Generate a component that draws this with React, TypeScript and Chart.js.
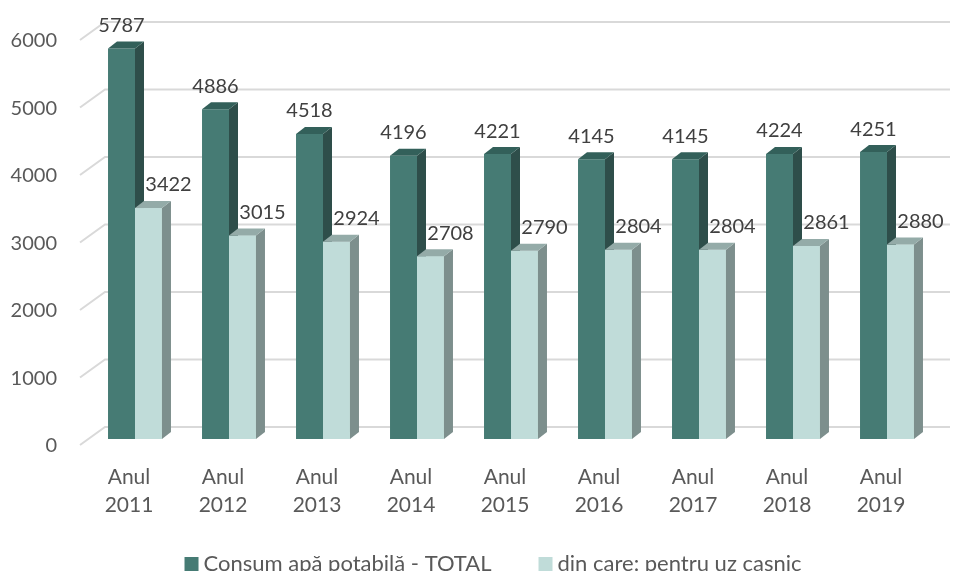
import React, { useEffect, useRef } from 'react';
import { Chart, registerables } from 'chart.js';

Chart.register(...registerables);

const years = ['2011', '2012', '2013', '2014', '2015', '2016', '2017', '2018', '2019'];
const categoryLabels = years.map((y) => ['Anul', y]);
const totalValues = [5787, 4886, 4518, 4196, 4221, 4145, 4145, 4224, 4251];
const householdValues = [3422, 3015, 2924, 2708, 2790, 2804, 2804, 2861, 2880];
const seriesNames = ['Consum apă potabilă - TOTAL', 'din care: pentru uz casnic'];
const yMin = 0;
const yMax = 6000;
const yStep = 1000;

const FONT = 'Lato, "Open Sans", sans-serif';
const frontColors = ['#467b74', '#c0dcd9'];
const sideColors = ['#2e4e4a', '#7d8f8d'];
const topColors = ['#33605a', '#94aba8'];
const DX = 9;
const DY = 7;

const gridPlugin = {
  id: 'grid3d',
  beforeDatasetsDraw(chart: any) {
    const { ctx, chartArea, scales } = chart;
    const y = scales.y;
    ctx.save();
    ctx.strokeStyle = '#d9d9d9';
    ctx.lineWidth = 2;
    y.ticks.forEach((t: any) => {
      const py = y.getPixelForValue(t.value);
      ctx.beginPath();
      ctx.moveTo(chartArea.left - 8, py + 6);
      ctx.lineTo(chartArea.left + 17, py - 12);
      ctx.lineTo(chartArea.right + 16, py - 12);
      ctx.stroke();
    });
    ctx.restore();
  },
};

function drawDepth(ctx: any, bar: any, idx: number) {
  const { x, y, base, width } = bar.getProps(['x', 'y', 'base', 'width'], true);
  const l = x - width / 2;
  const r = x + width / 2;
  ctx.fillStyle = sideColors[idx];
  ctx.beginPath();
  ctx.moveTo(r, y);
  ctx.lineTo(r + DX, y - DY);
  ctx.lineTo(r + DX, base - DY);
  ctx.lineTo(r, base);
  ctx.closePath();
  ctx.fill();
  ctx.fillStyle = topColors[idx];
  ctx.beginPath();
  ctx.moveTo(l, y);
  ctx.lineTo(l + DX, y - DY);
  ctx.lineTo(r + DX, y - DY);
  ctx.lineTo(r, y);
  ctx.closePath();
  ctx.fill();
}

const depthPlugin = {
  id: 'depth3d',
  afterDatasetsDraw(chart: any) {
    const { ctx } = chart;
    ctx.save();
    chart.getDatasetMeta(0).data.forEach((bar: any) => drawDepth(ctx, bar, 0));
    chart.getDatasetMeta(1).data.forEach((bar: any) => {
      const { x, y, base, width } = bar.getProps(['x', 'y', 'base', 'width'], true);
      ctx.fillStyle = frontColors[1];
      ctx.fillRect(x - width / 2, y, width, base - y);
      drawDepth(ctx, bar, 1);
    });
    ctx.font = `20px ${FONT}`;
    ctx.fillStyle = '#404040';
    ctx.textAlign = 'center';
    ctx.textBaseline = 'middle';
    chart.data.datasets.forEach((ds: any, di: number) => {
      const meta = chart.getDatasetMeta(di);
      meta.data.forEach((bar: any, i: number) => {
        const shift = di === 1 ? 20 : 0;
        ctx.fillText(String(ds.data[i]), bar.x + shift, bar.y - 23);
      });
    });
    ctx.restore();
  },
};

const legendPlugin = {
  id: 'customLegend',
  afterDraw(chart: any) {
    const { ctx } = chart;
    ctx.save();
    ctx.font = `22px ${FONT}`;
    ctx.textBaseline = 'middle';
    ctx.textAlign = 'left';
    const box = 14;
    const gap = 5;
    const spacing = 47;
    const widths = chart.data.datasets.map((ds: any) => box + gap + ctx.measureText(ds.label).width);
    const total = widths.reduce((a: number, b: number) => a + b, 0) + spacing * (widths.length - 1);
    let x = 493 - total / 2;
    const cy = 564;
    chart.data.datasets.forEach((ds: any, i: number) => {
      ctx.fillStyle = ds.backgroundColor;
      ctx.fillRect(x, cy - 7, box, box);
      ctx.fillStyle = '#595959';
      ctx.fillText(ds.label, x + box + gap, cy);
      x += widths[i] + spacing;
    });
    ctx.restore();
  },
};

export default function App() {
  const ref = useRef<HTMLCanvasElement | null>(null);
  useEffect(() => {
    if (!ref.current) return;
    const chart = new Chart(ref.current, {
      type: 'bar',
      data: {
        labels: categoryLabels,
        datasets: [
          {
            label: seriesNames[0],
            data: totalValues,
            backgroundColor: frontColors[0],
            categoryPercentage: 0.574,
            barPercentage: 1,
          },
          {
            label: seriesNames[1],
            data: householdValues,
            backgroundColor: frontColors[1],
            categoryPercentage: 0.574,
            barPercentage: 1,
          },
        ],
      },
      options: {
        animation: false,
        responsive: true,
        maintainAspectRatio: false,
        layout: { padding: { left: 0, right: 34, top: 34, bottom: 0 } },
        plugins: { legend: { display: false }, tooltip: { enabled: false } },
        scales: {
          x: {
            grid: { display: false, drawTicks: false },
            border: { display: false },
            ticks: {
              color: '#595959',
              font: { family: FONT, size: 21, lineHeight: 1.35 },
              padding: 24,
              labelOffset: -6,
              maxRotation: 0,
              autoSkip: false,
            },
            afterFit: (s: any) => {
              s.height = 132;
              s.paddingLeft = 0;
              s.paddingRight = 0;
            },
          },
          y: {
            min: yMin,
            max: yMax,
            grid: { display: false, drawTicks: false },
            border: { display: false },
            ticks: {
              stepSize: yStep,
              color: '#595959',
              font: { family: FONT, size: 20 },
              padding: 31,
              labelOffset: 7,
              callback: (v: any) => String(v),
            },
            afterFit: (s: any) => {
              s.width = 88;
              s.paddingTop = 0;
              s.paddingBottom = 0;
            },
          },
        },
      },
      plugins: [gridPlugin, depthPlugin, legendPlugin],
    });
    return () => chart.destroy();
  }, []);
  return (
    <div style={{ position: 'fixed', left: 0, top: 0, width: 968, height: 571 }}>
      <canvas ref={ref} />
    </div>
  );
}
